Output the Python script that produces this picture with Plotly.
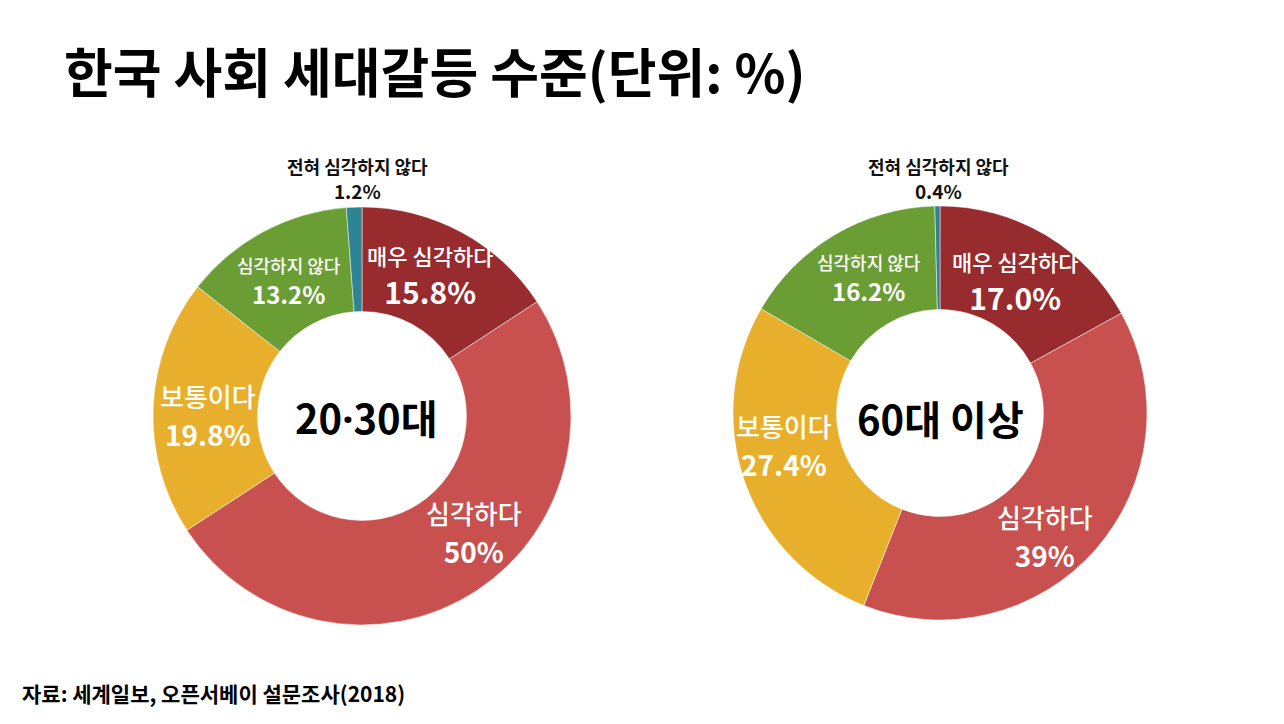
import plotly.graph_objects as go

W, H = 1284, 724
OFF = 8  # page body margin

# data
categories = ['매우 심각하다', '심각하다', '보통이다', '심각하지 않다', '전혀 심각하지 않다']
young_vals = [15.8, 50, 19.8, 13.2, 1.2]
old_vals = [17.0, 39, 27.4, 16.2, 0.4]
young_text = ['15.8%', '50%', '19.8%', '13.2%', '1.2%']
old_text = ['17.0%', '39%', '27.4%', '16.2%', '0.4%']
groups = ['20<span style="font-family:Noto Sans">·</span>30대', '60대 이상']

colors = ['#982B2E', '#C85150', '#E8AF2D', '#6A9E34', '#2D8495']
FONT = 'Noto Sans CJK KR'


def px(x, y):
    # screen pixel -> paper coords
    return (x - OFF) / W, 1 - (y - OFF) / H


def dom(cx, cy, r):
    cx, cy = cx - OFF, cy - OFF
    return dict(x=[(cx - r) / W, (cx + r) / W],
                y=[1 - (cy + r) / H, 1 - (cy - r) / H])


fig = go.Figure()

for vals, d in [(young_vals, dom(362, 416, 209)), (old_vals, dom(940, 413, 207))]:
    fig.add_trace(go.Pie(
        labels=categories,
        values=vals,
        sort=False,
        direction='clockwise',
        rotation=0,
        hole=0.5,
        domain=d,
        textinfo='none',
        hoverinfo='label+percent',
        marker=dict(colors=colors, line=dict(color='rgba(255,255,255,0.6)', width=0.8)),
        showlegend=False,
    ))

annotations = []


def add(text, x, y, size, color='white', bold=False, weight=None):
    ax, ay = px(x, y)
    f = dict(family=FONT, size=size, color=color)
    if weight:
        f['weight'] = weight
    annotations.append(dict(
        text='<b>%s</b>' % text if bold else text,
        x=ax, y=ay, xref='paper', yref='paper',
        showarrow=False, xanchor='center', yanchor='middle',
        font=f,
    ))


# label block centre (pixels), name size, value size, line size
young_pos = [((430, 276), 22, 30, 30),
             ((474, 532), 26, 28, 30),
             ((208, 415), 26, 28, 30),
             ((289, 281), 18, 24, 24),
             ((358, 178), 18, 19, 19)]
old_pos = [((1015, 282), 22, 30, 30),
           ((1045, 536), 26, 28, 30),
           ((784, 445), 26, 28, 30),
           ((869, 278), 18, 24, 24),
           ((938, 178), 18, 19, 19)]

for labels, pos in [(young_text, young_pos), (old_text, old_pos)]:
    for i, (name, (p, s1, s2, base)) in enumerate(zip(categories, pos)):
        if i == 4:
            txt = '<b><span style="font-size:%dpx">%s</span></b><br><b>%s</b>' % (s1, name, labels[i])
            add(txt, p[0], p[1], base, color='#111111')
        else:
            txt = ('<span style="font-size:%dpx">%s</span><br>'
                   '<b><span style="font-size:%dpx">%s</span></b>') % (s1, name, s2, labels[i])
            add(txt, p[0], p[1], base, weight=500)

add(groups[0], 366, 417, 40, color='black', bold=True)
add(groups[1], 940, 418, 40, color='black', bold=True)

# title and source
tx, ty = px(62, 70)
annotations.append(dict(text='<b>한국 사회 세대갈등 수준(단위: %)</b>', x=tx, y=ty,
                        xref='paper', yref='paper', showarrow=False,
                        xanchor='left', yanchor='middle',
                        font=dict(family=FONT, size=53, color='black')))
sx, sy = px(20, 693)
annotations.append(dict(text='<b>자료: 세계일보, 오픈서베이 설문조사(2018)</b>', x=sx, y=sy,
                        xref='paper', yref='paper', showarrow=False,
                        xanchor='left', yanchor='middle',
                        font=dict(family=FONT, size=21, color='black')))

fig.update_layout(
    width=W, height=H,
    margin=dict(l=0, r=0, t=0, b=0),
    paper_bgcolor='white',
    plot_bgcolor='white',
    annotations=annotations,
)

fig.write_html('out.html')
